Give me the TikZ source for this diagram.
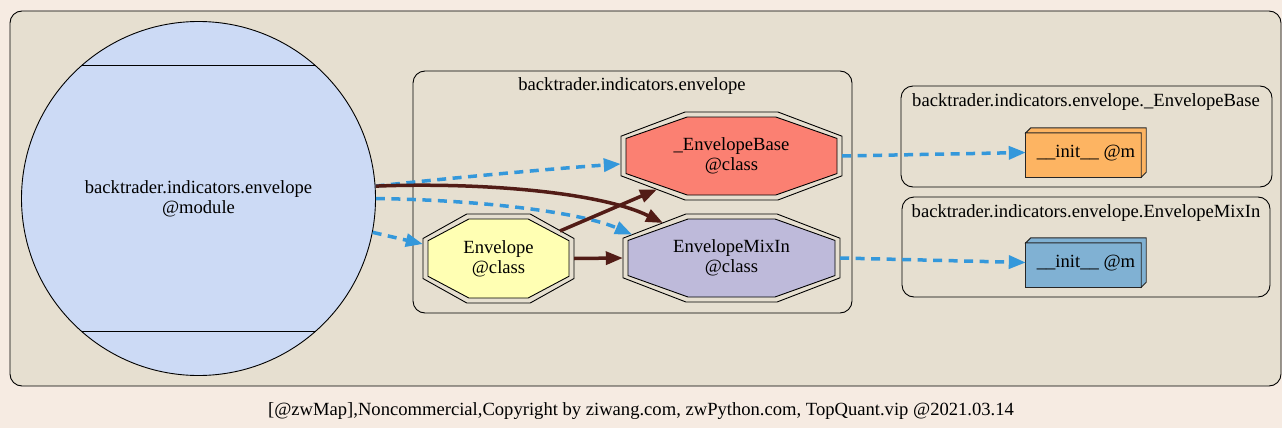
\documentclass[tikz,border=0pt]{standalone}
\usepackage{fontspec}
\setmainfont{Liberation Serif}
\usetikzlibrary{arrows.meta,calc}
\definecolor{bgout}{RGB}{246,235,226}
\definecolor{clus}{RGB}{230,223,208}
\definecolor{modfill}{RGB}{204,218,245}
\definecolor{brn}{RGB}{82,28,22}
\definecolor{blu}{RGB}{52,152,219}
\definecolor{salmon}{HTML}{FB8072}
\definecolor{lav}{HTML}{BEBADA}
\definecolor{yel}{HTML}{FFFFB3}
\definecolor{orng}{HTML}{FDB462}
\definecolor{sky}{HTML}{80B1D3}
\newcommand\octp[4]{({#1-(#3)/2},{#2-0.45*(#4)/2}) -- ({#1-0.42*(#3)/2},{#2-(#4)/2}) -- ({#1+0.42*(#3)/2},{#2-(#4)/2}) -- ({#1+(#3)/2},{#2-0.45*(#4)/2}) -- ({#1+(#3)/2},{#2+0.45*(#4)/2}) -- ({#1+0.42*(#3)/2},{#2+(#4)/2}) -- ({#1-0.42*(#3)/2},{#2+(#4)/2}) -- ({#1-(#3)/2},{#2+0.45*(#4)/2}) -- cycle}
\newcommand\dblocta[5]{%
  \filldraw[fill=#5, draw=black, line width=0.9pt] \octp{#1}{#2}{#3-10}{#4-10};
  \draw[line width=0.9pt] \octp{#1}{#2}{#3}{#4};}
\tikzset{
  txt/.style={font=\fontsize{18.6}{20}\selectfont, align=center, inner sep=0pt},
  clusterbox/.style={draw=black, line width=0.9pt, rounded corners=12pt},
  brownedge/.style={draw=brn, line width=3.5pt, -{Triangle[length=17pt,width=13pt]}},
  blueedge/.style={draw=blu, line width=3.5pt, dash pattern=on 9pt off 6.5pt, -{Triangle[length=17pt,width=13pt]}},
  boxline/.style={draw=black!85, line width=0.9pt},
}
\begin{document}
\begin{tikzpicture}[x=1pt,y=-1pt]
\useasboundingbox (0,0) rectangle (1282,428);
\fill[bgout] (0,0) rectangle (1282,428);
% clusters
\filldraw[clus, clusterbox, fill=clus] (10,11) rectangle (1281,386);
\draw[clusterbox] (413,71) rectangle (852,313);
\draw[clusterbox] (901,86) rectangle (1272,187);
\draw[clusterbox] (902,197) rectangle (1270,297);
\node[txt] (c1) at (632,86) {backtrader.indicators.envelope};
\node[txt] (c2) at (1086,102) {backtrader.indicators.envelope.\_EnvelopeBase};
\node[txt] (c3) at (1086,213) {backtrader.indicators.envelope.EnvelopeMixIn};
% module
\node[circle, draw=black, line width=0.9pt, fill=modfill, minimum size=354pt, inner sep=0pt, txt] (mod) at (198.5,198.5) {backtrader.indicators.envelope\\@module};
\draw[line width=0.9pt] (81.5,65.7) -- (315.5,65.7);
\draw[line width=0.9pt] (81.5,331.3) -- (315.5,331.3);
% octagons
\dblocta{731.5}{156}{221}{88}{salmon}
\dblocta{731.5}{258}{217}{88}{lav}
\dblocta{498.5}{258.5}{151}{89}{yel}
\node[txt, minimum width=221pt, minimum height=88pt] (eb) at (731.5,156) {\_EnvelopeBase\\@class};
\node[txt, minimum width=217pt, minimum height=88pt] (mx) at (731.5,258) {EnvelopeMixIn\\@class};
\node[txt, minimum width=151pt, minimum height=89pt] (env) at (498.5,258.5) {Envelope\\@class};
% box3d nodes
\node[txt, minimum width=120pt, minimum height=49pt] (ib) at (1086,152.5) {};
\node[txt, minimum width=120pt, minimum height=49pt] (im) at (1086,262.5) {};
\filldraw[boxline, fill=orng] (ib.south west) rectangle ($(ib.north east)+(-5,5)$);
\filldraw[boxline, fill=orng] ($(ib.north west)+(0,5)$) -- ($(ib.north west)+(5,0)$) -- (ib.north east) -- ($(ib.south east)+(0,-5)$) -- ($(ib.south east)+(-5,0)$) -- ($(ib.north east)+(-5,5)$) -- cycle;
\filldraw[boxline, fill=sky] (im.south west) rectangle ($(im.north east)+(-5,5)$);
\filldraw[boxline, fill=sky] ($(im.north west)+(0,5)$) -- ($(im.north west)+(5,0)$) -- (im.north east) -- ($(im.south east)+(0,-5)$) -- ($(im.south east)+(-5,0)$) -- ($(im.north east)+(-5,5)$) -- cycle;
\node[txt] (ibt) at (1086,153) {\_\_init\_\_ @m};
\node[txt] (imt) at (1086,263) {\_\_init\_\_ @m};
% edges
\draw[blueedge] (mod.4.5) .. controls (450,178) and (560,168) .. ($(eb.west)+(0,8)$);
\draw[brownedge] (mod.4.5) .. controls (480,182) and (600,192) .. ($(mx.center)+(-68.5,-35)$);
\draw[blueedge] (mod.0.5) .. controls (480,200) and (580,212) .. ($(mx.center)+(-99.5,-23.5)$);
\draw[blueedge] (mod.-11) -- ($(env.west)+(0,-14.5)$);
\draw[brownedge] ($(env.center)+(61.5,-27.5)$) -- ($(eb.center)+(-74.5,33.4)$);
\draw[brownedge] (env.east) -- (mx.west);
\draw[blueedge] (eb.east) -- (ib.west);
\draw[blueedge] (mx.east) -- (im.west);
% footer
\node[txt] (foot) at (641,411) {[@zwMap],Noncommercial,Copyright by ziwang.com, zwPython.com, TopQuant.vip @2021.03.14};
\end{tikzpicture}
\end{document}
